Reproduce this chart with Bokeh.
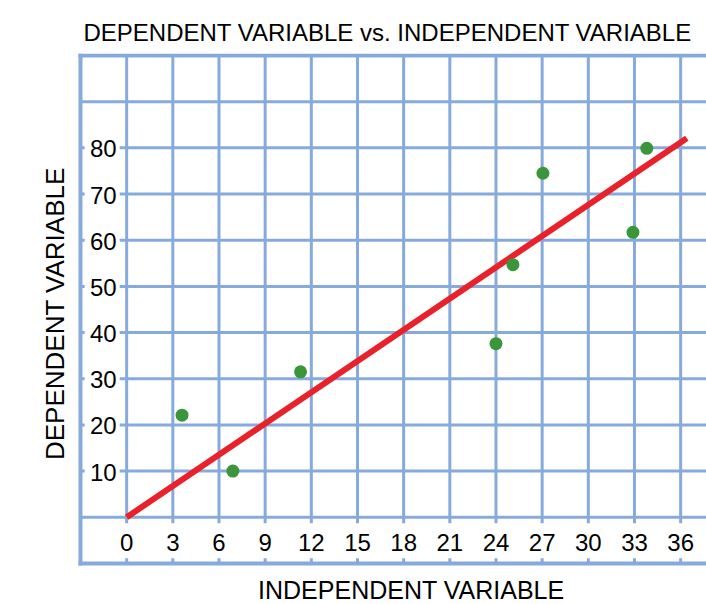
from bokeh.plotting import figure
from bokeh.models import ColumnDataSource
from bokeh.embed import file_html
from bokeh.resources import INLINE
from bokeh.core.properties import value
import math

# ---- data ----
x_vals = [3.6, 6.9, 11.3, 24.0, 25.1, 27.05, 32.9, 33.8]
y_vals = [22.1, 10.0, 31.5, 37.6, 54.7, 74.5, 61.7, 79.9]
fit_x = [0, 36.4]
fit_y = [0, 82.1]
x_ticks = [0, 3, 6, 9, 12, 15, 18, 21, 24, 27, 30, 33, 36]
y_ticks = [10, 20, 30, 40, 50, 60, 70, 80]
x_grid = [0, 3, 6, 9, 12, 15, 18, 21, 24, 27, 30, 33, 36, 39]
y_grid = [0, 10, 20, 30, 40, 50, 60, 70, 80, 90]
x_border = [-3, 42]
y_border = [-10, 100]
title_text = "DEPENDENT VARIABLE vs. INDEPENDENT VARIABLE"
x_label = ["INDEPENDENT VARIABLE"]
y_label = ["DEPENDENT VARIABLE"]

FONT = "Liberation Sans"
GRID_COLOR = "#87AADD"

p = figure(width=706, height=604, output_backend="svg", toolbar_location=None,
           x_range=(-8.198, 37.68), y_range=(-18.89, 100.43),
           x_axis_type=None, y_axis_type=None,
           min_border_left=0, min_border_right=0, min_border_top=53, min_border_bottom=0,
           title=title_text)
p.outline_line_color = None
p.background_fill_color = "white"
p.border_fill_color = "white"
p.xgrid.visible = False
p.ygrid.visible = False

p.title.text_font = FONT
p.title.text_font_size = "24px"
p.title.text_font_style = "normal"
p.title.text_color = "black"
p.title.align = "left"
p.title.offset = 83
p.title.standoff = 15

# grid lines, limited to the gridded box
nx, ny = len(x_grid), len(y_grid)
vsrc = ColumnDataSource(dict(x=x_grid, y0=[y_border[0]] * nx, y1=[y_border[1]] * nx))
hsrc = ColumnDataSource(dict(y=y_grid, x0=[x_border[0]] * ny, x1=[x_border[1]] * ny))
p.segment(x0="x", y0="y0", x1="x", y1="y1", source=vsrc, line_color=GRID_COLOR, line_width=3)
p.segment(x0="x0", y0="y", x1="x1", y1="y", source=hsrc, line_color=GRID_COLOR, line_width=3)
# border of the gridded box
p.segment(x0=[x_border[0]] * 3, y0=[y_border[0], y_border[0], y_border[1]],
          x1=[x_border[0], x_border[1], x_border[1]], y1=[y_border[1], y_border[0], y_border[1]],
          line_color=GRID_COLOR, line_width=4, line_cap="square")

# tick label backgrounds and labels
ysrc = ColumnDataSource(dict(x=[0] * len(y_ticks), bx=[-1.59] * len(y_ticks),
                             y=y_ticks, t=[str(v) for v in y_ticks]))
xsrc = ColumnDataSource(dict(x=x_ticks, y=[-5.52] * len(x_ticks), by=[-5.09] * len(x_ticks),
                             t=[str(v) for v in x_ticks]))
p.rect(x="bx", y="y", width=35, height=30, width_units="screen", height_units="screen",
       fill_color="white", line_color=None, source=ysrc)
p.rect(x="x", y="by", width=30, height=35, width_units="screen", height_units="screen",
       fill_color="white", line_color=None, source=xsrc)
p.text(x="x", y="y", text="t", source=ysrc, x_offset=-10, y_offset=1,
       text_align="right", text_baseline="middle",
       text_font=value(FONT), text_font_size="24px", text_color="black")
p.text(x="x", y="y", text="t", source=xsrc,
       text_align="center", text_baseline="middle",
       text_font=value(FONT), text_font_size="24px", text_color="black")

# axis labels
p.text(x=[18.5], y=[-15.85], text=x_label, text_align="center", text_baseline="alphabetic",
       text_font=value(FONT), text_font_size="25px", text_color="black")
p.text(x=[-4.685], y=[44.1], text=y_label, angle=math.pi / 2,
       text_align="center", text_baseline="alphabetic",
       text_font=value(FONT), text_font_size="26px", text_color="black")

# fit line and points
p.line(fit_x, fit_y, line_color="#E8212B", line_width=6, line_cap="butt")
p.scatter(x_vals, y_vals, size=13, fill_color="#3B963B", line_color=None)

open("out.html", "w").write(file_html(p, INLINE))
